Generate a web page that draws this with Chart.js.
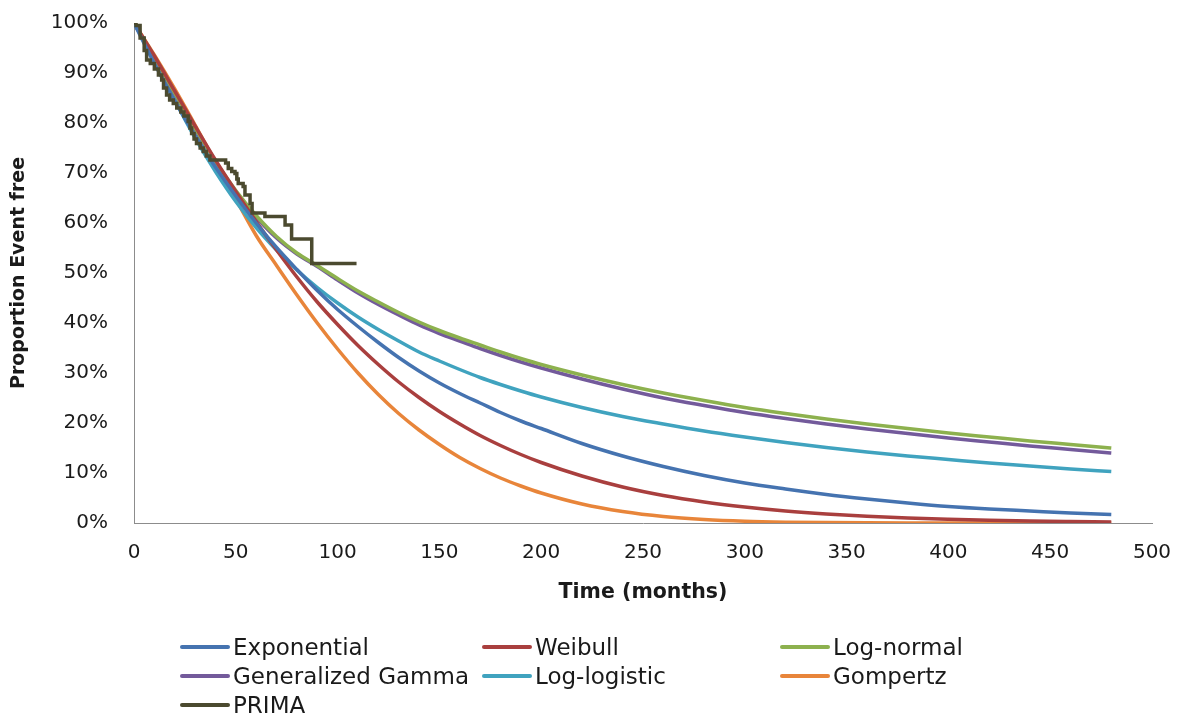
<!DOCTYPE html>
<html>
<head>
<meta charset="utf-8">
<title>Proportion event free</title>
<script src="https://cdn.jsdelivr.net/npm/chart.js@4.4.0/dist/chart.umd.min.js"></script>
<style>
    html, body { margin: 0; padding: 0; background: #fff; }
    #wrap { position: relative; width: 1182px; height: 716px; }
    #legend {
        position: absolute;
        left: 180px;
        top: 632px;
        display: grid;
        grid-template-columns: 302px 298px auto;
        grid-auto-rows: 29px;
        font-family: "DejaVu Sans", sans-serif;
        font-size: 23px;
        color: #1a1a1a;
    }
    .item { display: flex; align-items: center; white-space: nowrap; }
    .swatch { width: 50px; height: 4px; border-radius: 2px; margin-right: 3px; }
</style>
</head>
<body>
<div id="wrap">
    <canvas id="survivalChart" width="1182" height="716"></canvas>
    <div id="legend"></div>
</div>
<script>
// model curves, read at these months
const months = [0, 10, 20, 30, 40, 50, 60, 70, 80, 90, 100, 110, 120, 130, 140, 150, 160, 170, 180, 190, 200,
    220, 240, 260, 280, 300, 320, 340, 360, 380, 400, 420, 440, 460, 480];

const exponential = [100, 91.9, 84.4, 77.5, 71.2, 65.4, 60.0, 55.1, 50.7, 46.5, 42.7, 39.3, 36.1, 33.1, 30.4, 28.0, 25.9, 24.0, 22.1, 20.4, 18.9,
    15.9, 13.4, 11.3, 9.5, 8.0, 6.8, 5.7, 4.8, 4.0, 3.3, 2.8, 2.4, 2.0, 1.7];
const weibull = [100, 93.4, 86.4, 79.4, 72.6, 66.3, 60.3, 54.6, 49.2, 44.2, 39.7, 35.5, 31.7, 28.2, 25.1, 22.3, 19.8, 17.5, 15.5, 13.7, 12.1,
    9.4, 7.2, 5.5, 4.2, 3.2, 2.4, 1.8, 1.35, 1.0, 0.75, 0.55, 0.4, 0.3, 0.22];
const logNormal = [100, 93.2, 86.0, 79.0, 72.3, 66.5, 61.5, 57.3, 54.0, 51.5, 48.9, 46.4, 44.2, 42.1, 40.2, 38.5, 37.0, 35.6, 34.2, 32.9, 31.7,
    29.6, 27.7, 26.0, 24.5, 23.1, 21.9, 20.8, 19.8, 18.9, 18.0, 17.2, 16.4, 15.7, 15.0];
const genGamma = [100, 93.0, 85.8, 78.8, 72.0, 66.2, 61.2, 57.0, 53.8, 51.3, 48.6, 46.0, 43.7, 41.6, 39.6, 37.9, 36.4, 34.9, 33.5, 32.2, 31.0,
    28.8, 26.8, 25.0, 23.5, 22.1, 20.9, 19.8, 18.8, 17.9, 17.0, 16.2, 15.4, 14.7, 14.0];
const logLogistic = [100, 92.8, 84.6, 77.0, 70.3, 64.3, 59.1, 54.6, 50.6, 47.1, 44.0, 41.2, 38.7, 36.4, 34.2, 32.4, 30.7, 29.1, 27.7, 26.4, 25.2,
    23.1, 21.3, 19.8, 18.4, 17.2, 16.1, 15.1, 14.2, 13.4, 12.7, 12.0, 11.4, 10.8, 10.3];
const gompertz = [100, 93.6, 86.8, 79.6, 72.2, 64.8, 57.5, 51.5, 45.6, 40.0, 34.8, 30.0, 25.7, 21.9, 18.6, 15.7, 13.1, 10.9, 9.0, 7.4, 6.0,
    3.8, 2.3, 1.3, 0.7, 0.35, 0.17, 0.08, 0.03, 0.01, 0, 0, 0, 0, 0];

// observed Kaplan-Meier steps (PRIMA)
const primaMonths = [0, 1, 3, 5, 6.2, 8, 10, 12, 13.6, 14.5, 16, 17.5, 19.3, 21, 23, 24.5, 26.6, 27.5, 28.3, 29.5, 30.7,
    32.5, 34, 35.5, 37.3, 45, 46.3, 48, 49.6, 50.5, 51.2, 53.6, 54.5, 57, 58, 64.3, 74.2, 77.4, 87.3, 109.3];
const primaSurvival = [100, 99.5, 97, 94.5, 92.6, 91.9, 90.8, 89.6, 88.6, 87, 85.6, 84.6, 83.9, 83, 82.2, 81.4, 80.3, 79, 77.9, 76.8, 75.9,
    75, 74.3, 73.4, 72.6, 72, 70.9, 70.3, 69.9, 68.8, 67.9, 67.3, 65.6, 63.9, 62.0, 61.3, 59.6, 56.8, 51.9, 51.9];

const seriesNames = ['Exponential', 'Weibull', 'Log-normal', 'Generalized Gamma', 'Log-logistic', 'Gompertz', 'PRIMA'];
const seriesColors = ['#4573b0', '#a93f3e', '#8db14e', '#735a9b', '#40a3bf', '#e8853a', '#4b4a2f'];

function toPoints(xs, ys) {
    return xs.map((x, i) => ({ x: x, y: ys[i] }));
}

const modelValues = [exponential, weibull, logNormal, genGamma, logLogistic, gompertz];
const datasets = modelValues.map((vals, i) => ({
    label: seriesNames[i],
    data: toPoints(months, vals),
    borderColor: seriesColors[i],
    borderWidth: 3.5,
    pointRadius: 0,
    cubicInterpolationMode: 'monotone',
    order: 1
}));
datasets.push({
    label: 'PRIMA',
    data: toPoints(primaMonths, primaSurvival),
    borderColor: seriesColors[6],
    borderWidth: 3.5,
    pointRadius: 0,
    stepped: true,
    order: 0
});

const tickFont = { family: '"DejaVu Sans", sans-serif', size: 20 };

new Chart(document.getElementById('survivalChart'), {
    type: 'line',
    data: { datasets: datasets },
    options: {
        responsive: false,
        animation: false,
        layout: { padding: { top: 23, right: 30, bottom: 103, left: 0 } },
        plugins: { legend: { display: false }, tooltip: { enabled: false } },
        scales: {
            x: {
                type: 'linear',
                min: 0,
                max: 500,
                // hidden tick marks only push the labels away from the axis
                grid: { display: false, drawTicks: true, tickLength: 14 },
                border: { color: '#8c8c8c', width: 1 },
                ticks: { stepSize: 50, padding: 4, color: '#1a1a1a', font: tickFont, maxRotation: 0 },
                title: {
                    display: true, text: 'Time (months)', color: '#1a1a1a',
                    font: { family: '"DejaVu Sans", sans-serif', size: 20.5, weight: 'bold' },
                    padding: { top: 0, bottom: 8 }
                },
                afterFit: scale => { scale.height = 90; }
            },
            y: {
                min: 0,
                max: 100,
                grid: { display: false, drawTicks: true, tickLength: 22 },
                border: { color: '#8c8c8c', width: 1 },
                ticks: { stepSize: 10, padding: 4, color: '#1a1a1a', font: tickFont, callback: v => v + '%' },
                title: {
                    display: true, text: 'Proportion Event free', color: '#1a1a1a',
                    font: { family: '"DejaVu Sans", sans-serif', size: 19, weight: 'bold' },
                    padding: { top: 8, bottom: 0 }
                },
                afterFit: scale => { scale.width = 134; }
            }
        }
    }
});

// legend in three columns, like the original
const legendBox = document.getElementById('legend');
seriesNames.forEach((name, i) => {
    const item = document.createElement('div');
    item.classList.add('item');
    item.innerHTML = `<span class="swatch" style="background:${seriesColors[i]}"></span><span>${name}</span>`;
    legendBox.appendChild(item);
});
</script>
</body>
</html>
